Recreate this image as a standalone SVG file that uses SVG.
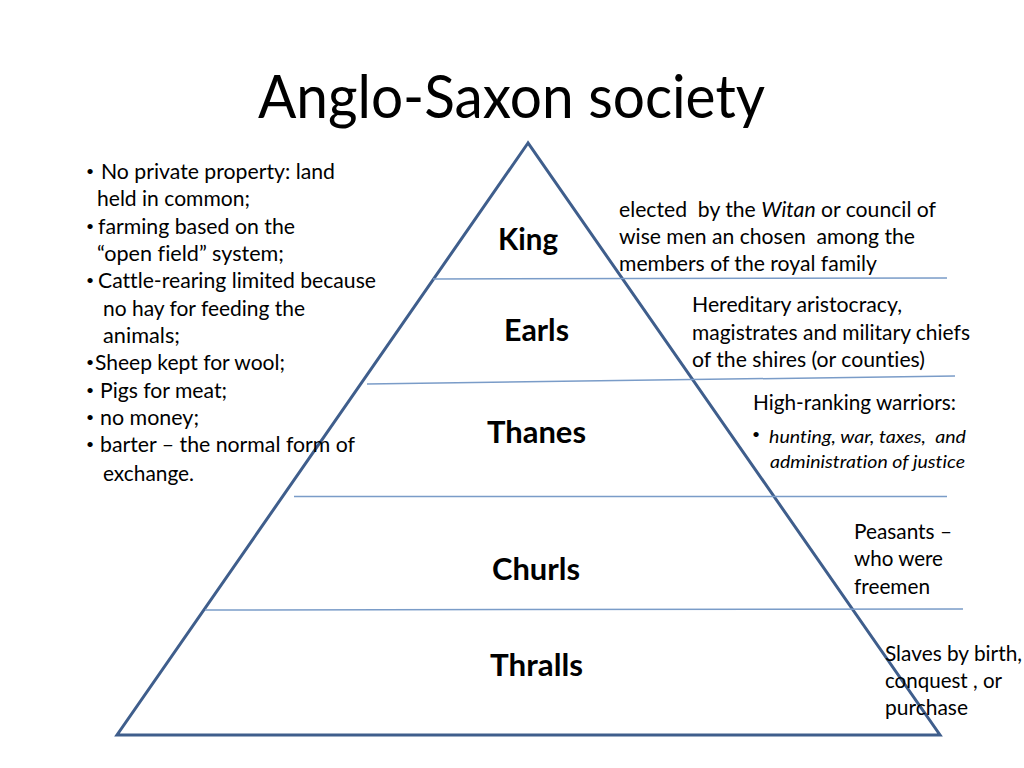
<svg xmlns="http://www.w3.org/2000/svg" width="1024" height="768" viewBox="0 0 1024 768">
<style>
text{font-family:Lato,"Liberation Sans",sans-serif;fill:#000;font-variant-ligatures:none;white-space:pre}
.t{font-size:60px}
.b{font-size:21px}
.bl{font-size:14px}
.s{font-size:17px}
.tier{font-size:30px;font-weight:bold}
.it{font-style:italic}
.tri{fill:none;stroke:#3F5E8C;stroke-width:3;stroke-linejoin:miter}
.sep{stroke:#7A9CC8;stroke-width:1.5;fill:none}
</style>
<rect width="1024" height="768" fill="#fff"/>
<text class="t" x="258" y="118" textLength="507" lengthAdjust="spacingAndGlyphs">Anglo-Saxon society</text>

<g id="pyramid">
<polygon class="tri" points="528,143 117,735 940,735"/>
</g>
<g id="connectors">
<line class="sep" x1="433" y1="279" x2="947" y2="278"/>
<line class="sep" x1="367" y1="384" x2="955" y2="376"/>
<line class="sep" x1="294" y1="496.5" x2="947" y2="496.5"/>
<line class="sep" x1="205" y1="610" x2="963" y2="609"/>
</g>

<g id="tier-king"><text class="tier" x="498" y="250" textLength="60" lengthAdjust="spacingAndGlyphs">King</text></g>
<g id="tier-earls"><text class="tier" x="504" y="341" textLength="65" lengthAdjust="spacingAndGlyphs">Earls</text></g>
<g id="tier-thanes"><text class="tier" x="487" y="443" textLength="99" lengthAdjust="spacingAndGlyphs">Thanes</text></g>
<g id="tier-churls"><text class="tier" x="492" y="580" textLength="88" lengthAdjust="spacingAndGlyphs">Churls</text></g>
<g id="tier-thralls"><text class="tier" x="490" y="676" textLength="93" lengthAdjust="spacingAndGlyphs">Thralls</text></g>

<g id="left-notes">
<text class="bl" x="86" y="176">•</text>
<text class="b" x="101" y="179" textLength="234" lengthAdjust="spacingAndGlyphs">No private property: land</text>
<text class="b" x="97" y="206" textLength="153" lengthAdjust="spacingAndGlyphs">held in common;</text>
<text class="bl" x="86" y="231">•</text>
<text class="b" x="98" y="234" textLength="197" lengthAdjust="spacingAndGlyphs">farming based on the</text>
<text class="b" x="97" y="261" textLength="187" lengthAdjust="spacingAndGlyphs">“open field” system;</text>
<text class="bl" x="86" y="285">•</text>
<text class="b" x="98" y="288" textLength="278" lengthAdjust="spacingAndGlyphs">Cattle-rearing limited because</text>
<text class="b" x="103" y="316" textLength="202" lengthAdjust="spacingAndGlyphs">no hay for feeding the</text>
<text class="b" x="103" y="343" textLength="77" lengthAdjust="spacingAndGlyphs">animals;</text>
<text class="bl" x="86" y="367">•</text>
<text class="b" x="95" y="370" textLength="190" lengthAdjust="spacingAndGlyphs">Sheep kept for wool;</text>
<text class="bl" x="86" y="395">•</text>
<text class="b" x="100" y="398" textLength="127" lengthAdjust="spacingAndGlyphs">Pigs for meat;</text>
<text class="bl" x="86" y="422">•</text>
<text class="b" x="100" y="425" textLength="99" lengthAdjust="spacingAndGlyphs">no money;</text>
<text class="bl" x="86" y="449">•</text>
<text class="b" x="100" y="452" textLength="255" lengthAdjust="spacingAndGlyphs">barter – the normal form of</text>
<text class="b" x="103" y="481" textLength="91" lengthAdjust="spacingAndGlyphs">exchange.</text>
</g>

<g id="note-king">
<text class="b" x="619" y="217" textLength="317" lengthAdjust="spacingAndGlyphs">elected  by the <tspan class="it">Witan</tspan> or council of</text>
<text class="b" x="619" y="244" textLength="296" lengthAdjust="spacingAndGlyphs">wise men an chosen  among the</text>
<text class="b" x="619" y="271" textLength="258" lengthAdjust="spacingAndGlyphs">members of the royal family</text>
</g>
<g id="note-earls">
<text class="b" x="692" y="312" textLength="210" lengthAdjust="spacingAndGlyphs">Hereditary aristocracy,</text>
<text class="b" x="692" y="340" textLength="278" lengthAdjust="spacingAndGlyphs">magistrates and military chiefs</text>
<text class="b" x="692" y="367" textLength="233" lengthAdjust="spacingAndGlyphs">of the shires (or counties)</text>
</g>
<g id="note-thanes">
<text class="b" x="753" y="410" textLength="203" lengthAdjust="spacingAndGlyphs">High-ranking warriors:</text>
<text class="bl" x="752" y="439">•</text>
<text class="s it" x="769" y="443" textLength="197" lengthAdjust="spacingAndGlyphs">hunting, war, taxes,  and</text>
<text class="s it" x="770" y="468" textLength="195" lengthAdjust="spacingAndGlyphs">administration of justice</text>
</g>
<g id="note-churls">
<text class="b" x="854" y="539" textLength="98" lengthAdjust="spacingAndGlyphs">Peasants –</text>
<text class="b" x="854" y="566" textLength="89" lengthAdjust="spacingAndGlyphs">who were</text>
<text class="b" x="854" y="594" textLength="76" lengthAdjust="spacingAndGlyphs">freemen</text>
</g>
<g id="note-thralls">
<text class="b" x="885" y="661" textLength="137" lengthAdjust="spacingAndGlyphs">Slaves by birth,</text>
<text class="b" x="885" y="688" textLength="117" lengthAdjust="spacingAndGlyphs">conquest , or</text>
<text class="b" x="885" y="715" textLength="83" lengthAdjust="spacingAndGlyphs">purchase</text>
</g>
</svg>
